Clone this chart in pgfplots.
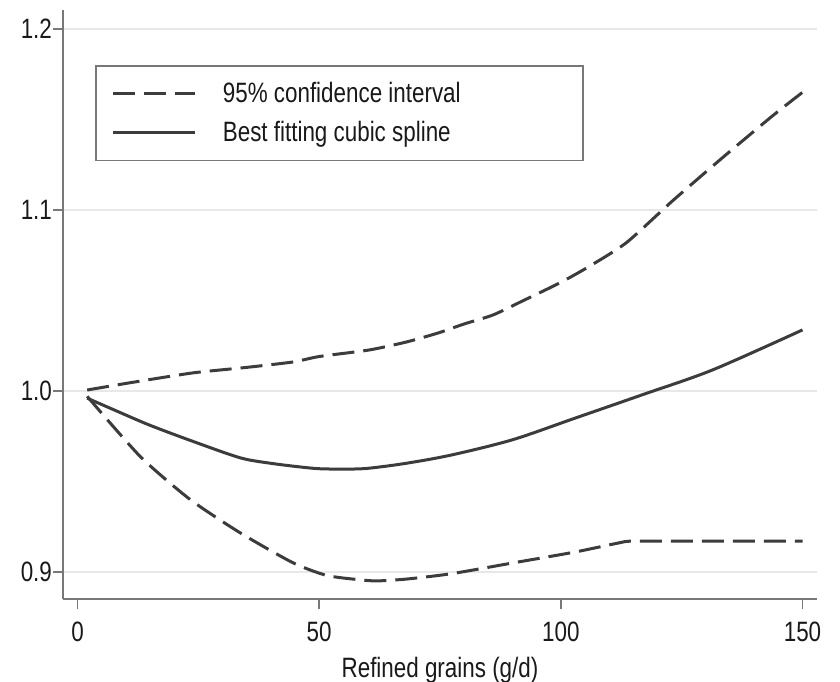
\documentclass[border=0pt]{standalone}
\usepackage{fontspec}
\setmainfont{Liberation Sans}[FakeStretch=0.8]
\usepackage{pgfplots}
\pgfplotsset{compat=1.18}

\definecolor{curve}{RGB}{60,60,60}
\definecolor{axisgray}{RGB}{120,120,120}
\definecolor{gridgray}{RGB}{232,232,232}

\begin{document}
\begin{tikzpicture}
% page extent (1px = 0.5pt); the axis box's lower left corner is the origin
\useasboundingbox (-31.5pt,-41pt) rectangle (388.5pt,299.5pt);
\begin{axis}[
  at={(0,0)}, anchor=south west,
  scale only axis,
  width=377pt, height=294.5pt,
  xmin=-3, xmax=153,
  ymin=0.885, ymax=1.2105,
  axis x line*=bottom, axis y line*=left,
  axis line style={axisgray, line width=1.2pt},
  xtick={0,50,100,150},
  ytick={0.9,1.0,1.1,1.2},
  tick align=outside,
  major tick length=5pt,
  tick style={axisgray, line width=0.8pt},
  ymajorgrids,
  major grid style={gridgray, line width=0.9pt},
  font=\fontsize{14pt}{16pt}\selectfont,
  /pgf/number format/assume math mode=true,
  yticklabel style={/pgf/number format/fixed, /pgf/number format/precision=1,
    /pgf/number format/fixed zerofill, xshift=3pt},
  xticklabel style={yshift=-3pt},
  ticklabel style={text=black!90},
  xlabel={Refined grains (g/d)},
  xlabel style={text=black!90, yshift=-1pt},
  legend style={
    at={(0.0424,0.9066)}, anchor=north west,
    draw=axisgray, line width=0.9pt,
    inner xsep=8pt, inner ysep=6pt,
    row sep=4pt, column sep=11pt,
    text=black!90,
    font=\fontsize{14pt}{16pt}\selectfont,
  },
  legend cell align=left,
  legend image code/.code={\draw[#1] (0pt,0pt) -- (41pt,0pt);},
]
% upper confidence limit
\addplot[curve, line width=1.5pt, dash pattern=on 11pt off 4.5pt, smooth, tension=0.4] coordinates {
  (2,1.0005) (12,1.005) (24,1.010) (35,1.013) (44.6,1.016) (50,1.019)
  (60.3,1.0226) (68,1.027) (74.6,1.032) (80,1.037) (86,1.042) (92.3,1.050)
  (100,1.060) (106,1.069) (113.6,1.082) (123.1,1.105) (133.5,1.129)
  (143.8,1.152) (150,1.165)
};
\addlegendentry{\makebox[170pt][l]{95\% confidence interval}}
% cubic spline estimate
\addplot[curve, line width=1.5pt, smooth, tension=0.5] coordinates {
  (2,0.996) (8,0.989) (15,0.981) (24,0.972) (33.7,0.963) (40,0.960)
  (46,0.958) (50,0.957) (55,0.9568) (60,0.9572) (68,0.960) (77.4,0.9646)
  (90,0.973) (103,0.985) (117,0.998) (131.4,1.0116) (150,1.0337)
};
\addlegendentry{Best fitting cubic spline}
% lower confidence limit
\addplot[curve, line width=1.5pt, dash pattern=on 11pt off 4.5pt, smooth, tension=0.4, forget plot] coordinates {
  (2,0.997) (13,0.9637) (23.3,0.940) (33.7,0.9215) (44.6,0.905)
  (51.6,0.898) (58.5,0.8956) (62,0.895) (68,0.896) (77.4,0.899) (90.2,0.905)
  (103,0.911) (112,0.916) (115,0.917) (130,0.917) (150,0.917)
};
\end{axis}
\end{tikzpicture}
\end{document}
